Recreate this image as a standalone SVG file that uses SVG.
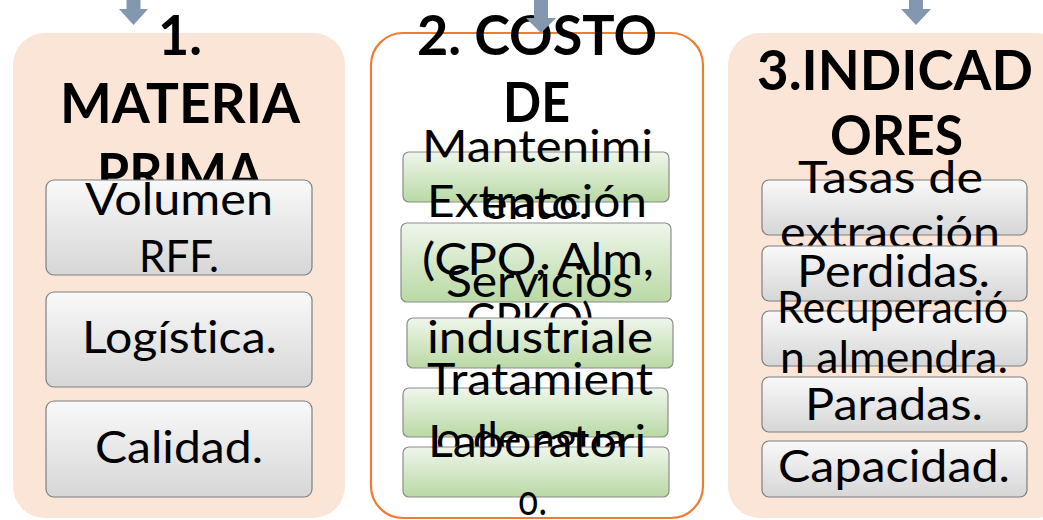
<svg xmlns="http://www.w3.org/2000/svg" width="1043" height="520" viewBox="0 0 1043 520">
<style>
.bg{fill:#FBE5D6;stroke:none}
.orange{fill:#ffffff;stroke:#ED7D31;stroke-width:2.2}
.gbox{fill:url(#gGray);stroke:#7f7f7f;stroke-width:1.2}
.grn{fill:url(#gGreen);stroke:#8c8c8c;stroke-width:1.2}
.t{font-family:Lato,"Liberation Sans",sans-serif;font-size:45px;fill:#000;text-anchor:middle;font-variant-ligatures:none}
.h{font-family:Lato,"Liberation Sans",sans-serif;font-size:55px;font-weight:bold;fill:#000;text-anchor:middle;font-variant-ligatures:none}
.arr{fill:#8497B0;stroke:none}
</style>
<defs>
<linearGradient id="gGray" x1="0" y1="0" x2="0" y2="1">
<stop offset="0" stop-color="#f9f9f9"/>
<stop offset="1" stop-color="#d6d6d6"/>
</linearGradient>
<linearGradient id="gGreen" x1="0" y1="0" x2="0" y2="1">
<stop offset="0" stop-color="#eff6eb"/>
<stop offset="1" stop-color="#b9d9a4"/>
</linearGradient>
</defs>
<rect width="1043" height="520" fill="#ffffff"/>

<g id="panel-materia-prima">
<rect class="bg" x="13" y="33" width="332" height="485" rx="32"/>
<text class="h" x="180" y="55" textLength="44" lengthAdjust="spacingAndGlyphs">1.</text>
<text class="h" x="180" y="123" textLength="240" lengthAdjust="spacingAndGlyphs">MATERIA</text>
<text class="h" x="180" y="193" textLength="166" lengthAdjust="spacingAndGlyphs">PRIMA</text>
</g>
<g id="node-volumen">
<rect class="gbox" x="46" y="180" width="266" height="95" rx="8"/>
<text class="t" x="179" y="215" textLength="188" lengthAdjust="spacingAndGlyphs">Volumen</text>
<text class="t" x="179" y="272" textLength="80" lengthAdjust="spacingAndGlyphs">RFF.</text>
</g>
<g id="node-logistica">
<rect class="gbox" x="46" y="292" width="266" height="95" rx="8"/>
<text class="t" x="179.5" y="353" textLength="195" lengthAdjust="spacingAndGlyphs">Logística.</text>
</g>
<g id="node-calidad">
<rect class="gbox" x="46" y="401" width="266" height="96" rx="8"/>
<text class="t" x="179" y="463" textLength="168" lengthAdjust="spacingAndGlyphs">Calidad.</text>
</g>

<g id="panel-costo">
<rect class="orange" x="371" y="33" width="332" height="485" rx="32"/>
<text class="h" x="537" y="55" textLength="240" lengthAdjust="spacingAndGlyphs">2. COSTO</text>
<text class="h" x="536.5" y="122" textLength="67" lengthAdjust="spacingAndGlyphs">DE</text>
</g>
<g id="node-mantenimiento">
<rect class="grn" x="403" y="152" width="266" height="50" rx="6"/>
<text class="t" x="537.5" y="162" textLength="231" lengthAdjust="spacingAndGlyphs">Mantenimi</text>
<text class="t" x="536" y="219" textLength="108" lengthAdjust="spacingAndGlyphs">ento.</text>
</g>
<g id="node-extraccion">
<rect class="grn" x="401" y="223" width="270" height="79" rx="6"/>
<text class="t" x="537" y="217" textLength="220" lengthAdjust="spacingAndGlyphs">Extracción</text>
<text class="t" x="538" y="275" textLength="232" lengthAdjust="spacingAndGlyphs">(CPO, Alm,</text>
<text class="t" x="530" y="335" textLength="127" lengthAdjust="spacingAndGlyphs">CPKO)</text>
</g>
<g id="node-servicios">
<rect class="grn" x="407" y="318" width="266" height="50" rx="6"/>
<text class="t" x="539.5" y="297" textLength="187" lengthAdjust="spacingAndGlyphs">Servicios</text>
<text class="t" x="540" y="353" textLength="226" lengthAdjust="spacingAndGlyphs">industriale</text>
<text class="t" x="540" y="410" textLength="40" lengthAdjust="spacingAndGlyphs">s.</text>
</g>
<g id="node-tratamiento">
<rect class="grn" x="403" y="388" width="265" height="49" rx="6"/>
<text class="t" x="540" y="395" textLength="226" lengthAdjust="spacingAndGlyphs">Tratamient</text>
<text class="t" x="536" y="454" textLength="200" lengthAdjust="spacingAndGlyphs">o de agua.</text>
</g>
<g id="node-laboratorio">
<rect class="grn" x="403" y="447" width="266" height="50" rx="6"/>
<text class="t" x="537" y="457" textLength="218" lengthAdjust="spacingAndGlyphs">Laboratori</text>
<text class="t" x="532.5" y="515" textLength="29" lengthAdjust="spacingAndGlyphs">o.</text>
</g>

<g id="panel-indicadores">
<rect class="bg" x="728" y="33" width="340" height="485" rx="32"/>
<text class="h" x="895" y="90" textLength="276" lengthAdjust="spacingAndGlyphs">3.INDICAD</text>
<text class="h" x="896.5" y="155" textLength="133" lengthAdjust="spacingAndGlyphs">ORES</text>
</g>
<g id="node-tasas">
<rect class="gbox" x="762" y="180" width="265" height="55" rx="7"/>
<text class="t" x="890.5" y="193" textLength="185" lengthAdjust="spacingAndGlyphs">Tasas de</text>
<text class="t" x="890" y="248" textLength="220" lengthAdjust="spacingAndGlyphs">extracción</text>
</g>
<g id="node-perdidas">
<rect class="gbox" x="762" y="246" width="265" height="55" rx="7"/>
<text class="t" x="893.5" y="287" textLength="193" lengthAdjust="spacingAndGlyphs">Perdidas.</text>
</g>
<g id="node-recuperacion">
<rect class="gbox" x="762" y="311" width="265" height="55" rx="7"/>
<text class="t" x="892.5" y="323" textLength="231" lengthAdjust="spacingAndGlyphs">Recuperació</text>
<text class="t" x="894" y="373" textLength="228" lengthAdjust="spacingAndGlyphs">n almendra.</text>
</g>
<g id="node-paradas">
<rect class="gbox" x="762" y="377" width="265" height="55" rx="7"/>
<text class="t" x="894" y="420" textLength="178" lengthAdjust="spacingAndGlyphs">Paradas.</text>
</g>
<g id="node-capacidad">
<rect class="gbox" x="762" y="441" width="265" height="56" rx="7"/>
<text class="t" x="894" y="482" textLength="232" lengthAdjust="spacingAndGlyphs">Capacidad.</text>
</g>

<g id="connectors">
<polygon class="arr" points="126.5,0 140.5,0 140.5,9 148,9 133.5,25 119,9 126.5,9"/>
<polygon class="arr" points="534,0 548,0 548,18 556,18 541,33 526,18 534,18"/>
<polygon class="arr" points="909,0 923,0 923,9 931,9 916,25 901,9 909,9"/>
</g>
</svg>
